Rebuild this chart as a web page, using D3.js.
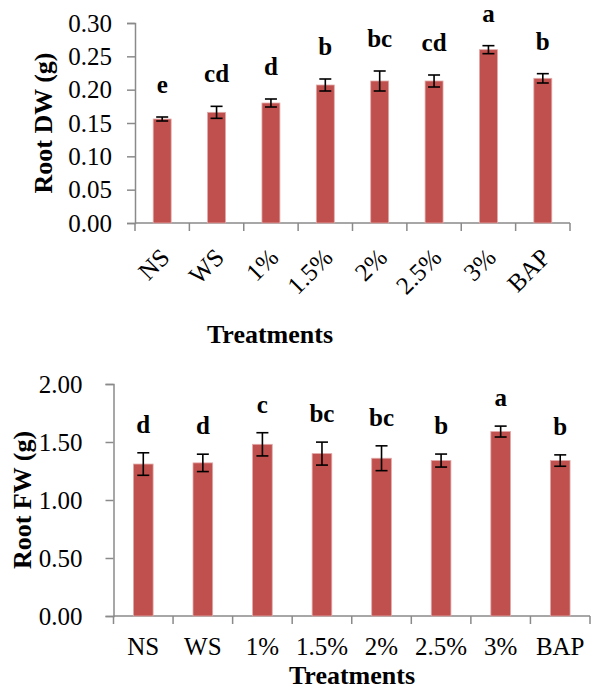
<!DOCTYPE html>
<html>
<head>
<meta charset="utf-8">
<script src="https://cdn.jsdelivr.net/npm/d3@7"></script>
<style>
  html, body { margin: 0; padding: 0; background: #fff; }
  svg { display: block; }
  text { font-family: "Liberation Serif", "Times New Roman", serif; fill: #000; }
</style>
</head>
<body>
<svg id="chart" width="591" height="690"></svg>
<script>
// ---- data ----
const categories = ["NS", "WS", "1%", "1.5%", "2%", "2.5%", "3%", "BAP"];

const dwValues = [0.156, 0.166, 0.180, 0.207, 0.213, 0.213, 0.260, 0.217];
const dwErrors = [0.003, 0.009, 0.006, 0.009, 0.015, 0.009, 0.006, 0.007];
const dwLetters = ["e", "cd", "d", "b", "bc", "cd", "a", "b"];
const dwTicks = [0.00, 0.05, 0.10, 0.15, 0.20, 0.25, 0.30];

const fwValues = [1.31, 1.32, 1.48, 1.40, 1.36, 1.34, 1.59, 1.34];
const fwErrors = [0.097, 0.075, 0.10, 0.099, 0.107, 0.056, 0.047, 0.049];
const fwLetters = ["d", "d", "c", "bc", "bc", "b", "a", "b"];
const fwTicks = [0.00, 0.50, 1.00, 1.50, 2.00];

const yTitles = ["Root DW (g)", "Root FW (g)"];
const xTitle = "Treatments";

// ---- drawing ----
const svg = d3.select("#chart");
const AXIS = "#8a8a8a";
const BAR = "#C0504D";

function panel(cfg) {
  const g = svg.append("g");
  const x = d3.scaleBand().domain(categories).range([cfg.left, cfg.right]).padding(0);
  const y = d3.scaleLinear().domain([0, cfg.max]).range([cfg.bottom, cfg.top]);
  const bw = x.bandwidth() * 0.33;

  // y axis
  const ya = d3.axisLeft(y).tickValues(cfg.ticks).tickSize(8).tickPadding(cfg.tickPad)
    .tickFormat(d3.format(".2f"));
  const yg = g.append("g").attr("transform", `translate(${cfg.left},0)`).call(ya);
  yg.select(".domain").attr("stroke", AXIS).attr("stroke-width", 1.5);
  yg.selectAll(".tick line").attr("stroke", AXIS).attr("stroke-width", 1.5);
  yg.selectAll(".tick text").attr("font-size", 25).attr("font-family", "Liberation Serif, serif").attr("fill", "#000");

  // x axis: line + boundary ticks
  g.append("line").attr("x1", cfg.left).attr("x2", cfg.right)
    .attr("y1", y(0)).attr("y2", y(0)).attr("stroke", AXIS).attr("stroke-width", 1.5);
  const bounds = categories.map(c => x(c)).concat([x.range()[1]]);
  g.selectAll(".xt").data(bounds).join("line")
    .attr("x1", d => d).attr("x2", d => d)
    .attr("y1", y(0)).attr("y2", y(0) + 8)
    .attr("stroke", AXIS).attr("stroke-width", 1.5);

  const vals = cfg.values;
  const cx = i => x(categories[i]) + x.bandwidth() / 2;

  // bars
  g.selectAll(".bar").data(vals).join("rect")
    .attr("x", (d, i) => cx(i) - bw / 2)
    .attr("width", bw)
    .attr("y", d => y(d))
    .attr("height", d => y(0) - y(d))
    .attr("fill", BAR)
    .attr("stroke", "#e2a9a8").attr("stroke-width", 0.8);

  // error bars
  const eg = g.append("g").attr("stroke", "#000").attr("stroke-width", 1.6);
  vals.forEach((v, i) => {
    const e = cfg.errors[i];
    const c = cx(i);
    eg.append("line").attr("x1", c).attr("x2", c).attr("y1", y(v - e)).attr("y2", y(v + e));
    eg.append("line").attr("x1", c - 6).attr("x2", c + 6).attr("y1", y(v - e)).attr("y2", y(v - e));
    eg.append("line").attr("x1", c - 6).attr("x2", c + 6).attr("y1", y(v + e)).attr("y2", y(v + e));
  });

  // letters
  g.selectAll(".lt").data(cfg.letters).join("text")
    .attr("x", (d, i) => cx(i))
    .attr("y", (d, i) => y(vals[i] + cfg.errors[i]) - cfg.letterGap)
    .attr("text-anchor", "middle")
    .attr("font-size", 25).attr("font-weight", "bold")
    .text(d => d);

  // category labels
  if (cfg.rotate) {
    g.selectAll(".cl").data(categories).join("text")
      .attr("transform", (d, i) => `translate(${cx(i) + 9},${y(0) + 36}) rotate(-45)`)
      .attr("text-anchor", "end")
      .attr("font-size", 25)
      .text(d => d);
  } else {
    g.selectAll(".cl").data(categories).join("text")
      .attr("x", (d, i) => cx(i))
      .attr("y", y(0) + 39)
      .attr("text-anchor", "middle")
      .attr("font-size", 25)
      .text(d => d);
  }

  // titles
  g.append("text")
    .attr("transform", `translate(${cfg.yTitleX},${(cfg.top + cfg.bottom) / 2}) rotate(-90)`)
    .attr("text-anchor", "middle").attr("dy", "0.3em")
    .attr("font-size", 26).attr("font-weight", "bold")
    .text(cfg.yTitle);
  g.append("text")
    .attr("x", cfg.xTitleX).attr("y", cfg.xTitleY)
    .attr("text-anchor", "middle")
    .attr("font-size", 26).attr("font-weight", "bold")
    .text(xTitle);
}

panel({
  left: 135, right: 570, top: 23, bottom: 223, max: 0.30,
  ticks: dwTicks, tickPad: 15,
  values: dwValues, errors: dwErrors, letters: dwLetters,
  letterGap: 24, rotate: true,
  yTitle: yTitles[0], yTitleX: 44, xTitleX: 270, xTitleY: 343
});

panel({
  left: 113.5, right: 590, top: 384, bottom: 616, max: 2.00,
  ticks: fwTicks, tickPad: 23,
  values: fwValues, errors: fwErrors, letters: fwLetters,
  letterGap: 20, rotate: false,
  yTitle: yTitles[1], yTitleX: 23, xTitleX: 352, xTitleY: 684
});
</script>
</body>
</html>
